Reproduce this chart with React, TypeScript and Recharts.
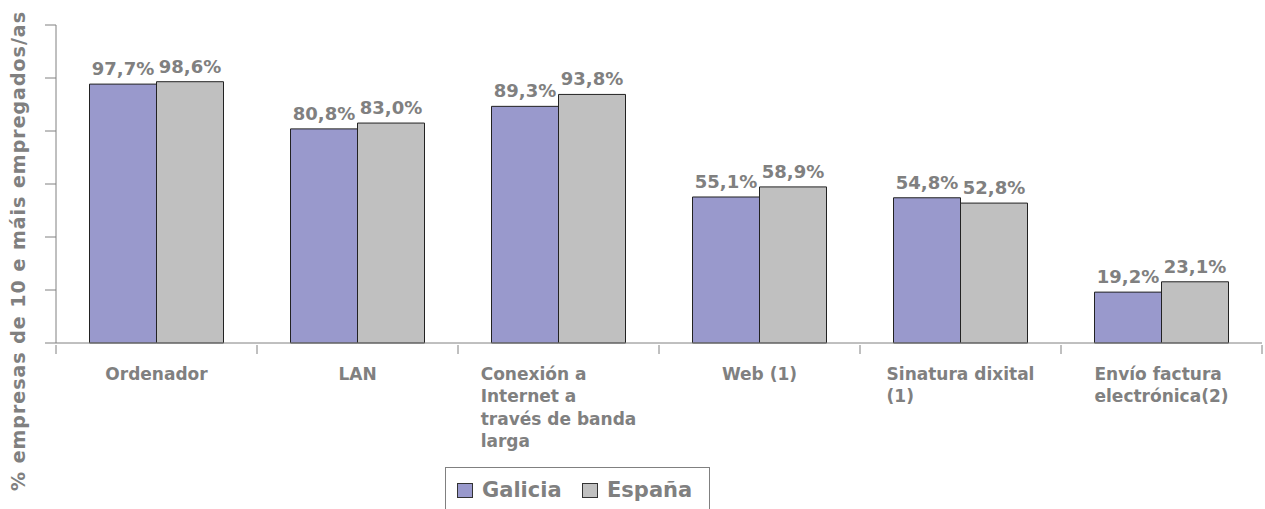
import React from 'react';
import { BarChart, Bar, XAxis, YAxis, LabelList } from 'recharts';

const categories = [
  'Ordenador',
  'LAN',
  'Conexión a Internet a través de banda larga',
  'Web (1)',
  'Sinatura dixital (1)',
  'Envío factura electrónica(2)',
];
const categoryLines: string[][] = [
  ['Ordenador'],
  ['LAN'],
  ['Conexión a', 'Internet a', 'través de banda', 'larga'],
  ['Web (1)'],
  ['Sinatura dixital', '(1)'],
  ['Envío factura', 'electrónica(2)'],
];
const galicia = [97.7, 80.8, 89.3, 55.1, 54.8, 19.2];
const espana = [98.6, 83.0, 93.8, 58.9, 52.8, 23.1];
const yTicks = [0, 20, 40, 60, 80, 100, 120];
const seriesNames = ['Galicia', 'España'];

const data = categories.map((c, i) => ({
  name: c,
  idx: i,
  galicia: galicia[i],
  espana: espana[i],
}));

const W = 1265;
const H = 509;
const MARGIN = { top: 25, right: 3, left: 0, bottom: 0 };
const YAXIS_W = 56;
const PLOT_W = W - MARGIN.left - MARGIN.right - YAXIS_W;
const BAND = PLOT_W / categories.length;
const GRAY = '#808080';
const FONT = '"DejaVu Sans", Verdana, sans-serif';
const CAT_SIZE = 17;
const LABEL_FONT = `bold ${CAT_SIZE}px "DejaVu Sans"`;

let canvas: HTMLCanvasElement | null = null;
function measure(text: string, font: string): number {
  if (!canvas) canvas = document.createElement('canvas');
  const ctx = canvas.getContext('2d');
  if (!ctx) return text.length * 10;
  ctx.font = font;
  return ctx.measureText(text).width;
}

const fmt = (v: number) => v.toFixed(1).replace('.', ',') + '%';

const CategoryTick = (props: any) => {
  const { x, y, payload, index } = props;
  const i = typeof payload?.index === 'number' ? payload.index : index;
  const lines = categoryLines[i] || [String(payload.value)];
  const maxW = Math.max(...lines.map((l) => measure(l, LABEL_FONT)));
  const left = x - maxW / 2;
  const axisY = y;
  return (
    <g>
      <line x1={x - BAND / 2} x2={x - BAND / 2} y1={axisY - 8} y2={axisY + 1} stroke={GRAY} strokeWidth={1} />
      {i === categories.length - 1 && (
        <line x1={x + BAND / 2} x2={x + BAND / 2} y1={axisY - 8} y2={axisY + 1} stroke={GRAY} strokeWidth={1} />
      )}
      <text
        x={left}
        y={axisY + 27}
        fill={GRAY}
        fontFamily={FONT}
        fontWeight="bold"
        fontSize={CAT_SIZE}
        textAnchor="start"
      >
        {lines.map((l, k) => (
          <tspan key={k} x={left} dy={k === 0 ? 0 : 22.3}>
            {l}
          </tspan>
        ))}
      </text>
    </g>
  );
};

const EmptyTick = () => <g />;

const YLabel = () => (
  <text
    x={18}
    y={251}
    transform="rotate(-90 18 251)"
    textAnchor="middle"
    dominantBaseline="central"
    fill={GRAY}
    fontFamily={FONT}
    fontWeight="bold"
    fontSize={19}
    letterSpacing={1}
  >
    % empresas de 10 e máis empregados/as
  </text>
);

const LegendBox = () => (
  <div
    style={{
      position: 'absolute',
      left: 445,
      top: 467,
      width: 265,
      height: 50,
      border: `1px solid ${GRAY}`,
      boxSizing: 'border-box',
      background: '#fff',
    }}
  >
    {seriesNames.map((n, k) => (
      <div
        key={n}
        style={{
          position: 'absolute',
          left: k === 0 ? 11 : 136,
          top: 10,
          display: 'flex',
          alignItems: 'center',
          fontFamily: FONT,
          fontWeight: 'bold',
          fontSize: 21,
          color: GRAY,
          whiteSpace: 'nowrap',
        }}
      >
        <span
          style={{
            display: 'inline-block',
            width: 16,
            height: 15,
            border: '1px solid #333',
            boxSizing: 'border-box',
            background: k === 0 ? '#9999CC' : '#C0C0C0',
            marginRight: 9,
          }}
        />
        {n}
      </div>
    ))}
  </div>
);

export default function App() {
  return (
    <div style={{ position: 'absolute', left: 0, top: 0, width: W, height: H, background: '#fff' }}>
      <BarChart
        width={W}
        height={H}
        data={data}
        margin={MARGIN}
        barCategoryGap="16.67%"
        barGap={0}
      >
        <XAxis
          dataKey="name"
          height={166}
          tickLine={false}
          axisLine={{ stroke: GRAY }}
          tick={<CategoryTick />}
          interval={0}
          tickSize={8}
        />
        <YAxis
          width={YAXIS_W}
          domain={[0, 120]}
          ticks={yTicks}
          interval={0}
          tick={<EmptyTick />}
          tickLine={{ stroke: GRAY }}
          tickSize={11}
          axisLine={{ stroke: GRAY }}
          label={<YLabel />}
        />
        <Bar dataKey="galicia" name="Galicia" fill="#9999CC" stroke="#222" strokeWidth={1} isAnimationActive={false}>
          <LabelList
            dataKey="galicia"
            position="top"
            offset={9}
            formatter={(v: any) => fmt(Number(v))}
            fill={GRAY}
            fontFamily={FONT}
            fontWeight="bold"
            fontSize={18}
          />
        </Bar>
        <Bar dataKey="espana" name="España" fill="#C0C0C0" stroke="#222" strokeWidth={1} isAnimationActive={false}>
          <LabelList
            dataKey="espana"
            position="top"
            offset={9}
            formatter={(v: any) => fmt(Number(v))}
            fill={GRAY}
            fontFamily={FONT}
            fontWeight="bold"
            fontSize={18}
          />
        </Bar>
      </BarChart>
      <LegendBox />
    </div>
  );
}
